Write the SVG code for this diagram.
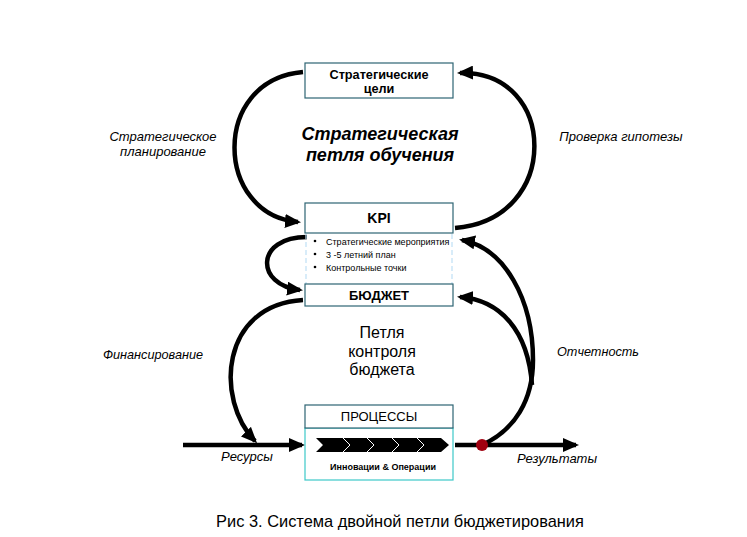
<svg xmlns="http://www.w3.org/2000/svg" width="747" height="537" viewBox="0 0 747 537">
<defs>
<marker id="ah" markerUnits="userSpaceOnUse" markerWidth="16" markerHeight="14" refX="13" refY="7" orient="auto">
<path d="M0,0 L16,7 L0,14 Z" fill="#000"/>
</marker>
<style>
.box{fill:#fff;stroke:#2e6473;stroke-width:1.2}
.cbox{fill:#fff;stroke:#3cc8c8;stroke-width:1.2}
.ln{fill:none;stroke:#000;stroke-width:4.5}
.t{font-family:"Liberation Sans",Arial,sans-serif;fill:#000}
.it{font-style:italic}
.b{font-weight:bold}
.dash{stroke:#bfe0f5;stroke-width:1.2;stroke-dasharray:5,3}
</style>
</defs>
<rect width="747" height="537" fill="#fff"/>

<g id="connectors">
<path class="ln" d="M303,72 C210,80 215,215 298,222" marker-end="url(#ah)"/>
<path class="ln" d="M455,228 C562,220 558,70 460,73" marker-end="url(#ah)"/>
<path class="ln" d="M307,237 C255,237 255,285 300,290" marker-end="url(#ah)"/>
<path class="ln" d="M303,300 C220,305 215,400 255,441" marker-end="url(#ah)"/>
<path class="ln" d="M482,445 C515,430 533,400 533,360 C533,300 505,248 462,240" marker-end="url(#ah)"/>
<path class="ln" d="M532,385 C528,330 500,300 460,297" marker-end="url(#ah)"/>
<path class="ln" d="M183,445 L302,445" marker-end="url(#ah)"/>
<path class="ln" d="M455,445 L576,445" marker-end="url(#ah)"/>
</g>

<g id="goals">
<rect class="box" x="305" y="63" width="148" height="35"/>
<text class="t b" x="379" y="79" font-size="12.7" text-anchor="middle">Стратегические</text>
<text class="t b" x="379" y="93" font-size="12.7" text-anchor="middle">цели</text>
</g>

<g id="kpi">
<rect class="box" x="305" y="203" width="148" height="30"/>
<text class="t b" x="379" y="223" font-size="14" text-anchor="middle">KPI</text>
</g>

<g id="bullets">
<line class="dash" x1="306" y1="234" x2="306" y2="284"/>
<line class="dash" x1="452" y1="234" x2="452" y2="284"/>
<circle cx="315" cy="241" r="1.3" fill="#000"/>
<circle cx="315" cy="254" r="1.3" fill="#000"/>
<circle cx="315" cy="267" r="1.3" fill="#000"/>
<text class="t" x="326" y="245" font-size="9">Стратегические мероприятия</text>
<text class="t" x="326" y="258" font-size="9">3 -5 летний план</text>
<text class="t" x="326" y="271" font-size="9">Контрольные точки</text>
</g>

<g id="budget">
<rect class="box" x="305" y="284" width="148" height="22"/>
<text class="t b" x="379" y="300" font-size="13" text-anchor="middle">БЮДЖЕТ</text>
</g>

<g id="processes">
<rect class="cbox" x="305" y="428" width="148" height="52"/>
<rect class="box" x="305" y="405" width="148" height="23"/>
<text class="t" x="379" y="421" font-size="13" text-anchor="middle">ПРОЦЕССЫ</text>
<path d="M316,438 L441,438 L449,445 L441,452 L316,452 L323,445 Z" fill="#000"/>
<polyline points="343,438 350,445 343,452" fill="none" stroke="#fff" stroke-width="1"/>
<polyline points="367,438 374,445 367,452" fill="none" stroke="#fff" stroke-width="1"/>
<polyline points="392,438 399,445 392,452" fill="none" stroke="#fff" stroke-width="1"/>
<polyline points="417,438 424,445 417,452" fill="none" stroke="#fff" stroke-width="1"/>
<text class="t b" x="383" y="470" font-size="9" text-anchor="middle">Инновации &amp; Операции</text>
</g>

<g id="dot">
<circle cx="482" cy="445" r="6" fill="#a00010"/>
</g>

<g id="labels">
<text class="t b it" x="380" y="140" font-size="18" text-anchor="middle">Стратегическая</text>
<text class="t b it" x="380" y="161" font-size="18" text-anchor="middle">петля обучения</text>
<text class="t it" x="163" y="141" font-size="13" text-anchor="middle">Стратегическое</text>
<text class="t it" x="163" y="156" font-size="13" text-anchor="middle">планирование</text>
<text class="t it" x="621" y="141" font-size="13" text-anchor="middle">Проверка гипотезы</text>
<text class="t" x="382" y="338" font-size="16" text-anchor="middle">Петля</text>
<text class="t" x="382" y="357" font-size="16" text-anchor="middle">контроля</text>
<text class="t" x="382" y="375" font-size="16" text-anchor="middle">бюджета</text>
<text class="t it" x="153" y="359" font-size="12.7" text-anchor="middle">Финансирование</text>
<text class="t it" x="598" y="356" font-size="12.7" text-anchor="middle">Отчетность</text>
<text class="t it" x="247" y="461" font-size="13" text-anchor="middle">Ресурсы</text>
<text class="t it" x="557" y="463" font-size="13" text-anchor="middle">Результаты</text>
<text class="t" x="400" y="527" font-size="16.4" text-anchor="middle">Рис 3. Система двойной петли бюджетирования</text>
</g>
</svg>
